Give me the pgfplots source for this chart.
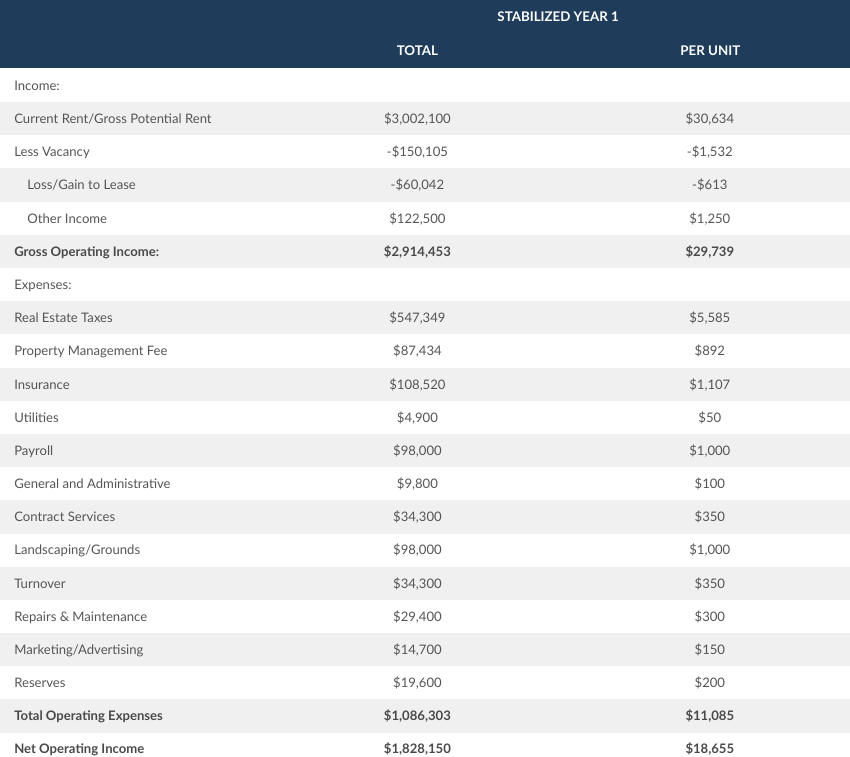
\documentclass[border=0pt]{standalone}
\usepackage{fontspec}
\setmainfont{Lato}
\usepackage{pgfplots}
\usepackage{pgfplotstable}
\pgfplotsset{compat=1.18}
\definecolor{hdr}{HTML}{1F3D5A}
\definecolor{band}{HTML}{F0F0F0}
\definecolor{txt}{HTML}{555555}
\definecolor{txtb}{HTML}{4A4A4A}

% regular rows (label column at x=17)
\pgfplotstableread[col sep=semicolon]{
y;label;total;unit
85;Income:;{};{}
117.7;Current Rent/Gross Potential Rent;\$3,002,100;\$30,634
150.6;Less Vacancy;-\$150,105;-\$1,532
282.3;Expenses:;{};{}
315.2;Real Estate Taxes;\$547,349;\$5,585
348.1;Property Management Fee;\$87,434;\$892
381.0;Insurance;\$108,520;\$1,107
413.9;Utilities;\$4,900;\$50
446.8;Payroll;\$98,000;\$1,000
479.7;General and Administrative;\$9,800;\$100
512.6;Contract Services;\$34,300;\$350
545.5;Landscaping/Grounds;\$98,000;\$1,000
578.4;Turnover;\$34,300;\$350
611.3;Repairs \& Maintenance;\$29,400;\$300
644.2;Marketing/Advertising;\$14,700;\$150
677.1;Reserves;\$19,600;\$200
}\regular

% indented rows (label column at x=30)
\pgfplotstableread[col sep=semicolon]{
y;label;total;unit
183.5;Loss/Gain to Lease;-\$60,042;-\$613
216.4;Other Income;\$122,500;\$1,250
}\indented

% bold rows
\pgfplotstableread[col sep=semicolon]{
y;label;total;unit
249.3;Gross Operating Income:;\$2,914,453;\$29,739
710.0;Total Operating Expenses;\$1,086,303;\$11,085
742.9;Net Operating Income;\$1,828,150;\$18,655
}\boldrows

\begin{document}
\begin{tikzpicture}
\begin{axis}[
  width=850bp, height=762bp, scale only axis,
  xmin=0, xmax=850, ymin=0, ymax=762, y dir=reverse,
  hide axis, clip=false,
  nodes near coords,
  point meta=explicit symbolic,
]
% header band and alternating row bands
\fill[hdr] (axis cs:3,0) rectangle (axis cs:846,67);
\fill[band] (axis cs:3,101.2) rectangle (axis cs:846,134.2);
\fill[band] (axis cs:3,167.0) rectangle (axis cs:846,200.0);
\fill[band] (axis cs:3,232.8) rectangle (axis cs:846,265.8);
\fill[band] (axis cs:3,298.7) rectangle (axis cs:846,331.7);
\fill[band] (axis cs:3,364.5) rectangle (axis cs:846,397.5);
\fill[band] (axis cs:3,430.3) rectangle (axis cs:846,463.3);
\fill[band] (axis cs:3,496.1) rectangle (axis cs:846,529.1);
\fill[band] (axis cs:3,561.9) rectangle (axis cs:846,594.9);
\fill[band] (axis cs:3,627.7) rectangle (axis cs:846,660.7);
\fill[band] (axis cs:3,693.5) rectangle (axis cs:846,726.5);
\node[text=white, font=\fontsize{13.2bp}{15bp}\selectfont\bfseries, anchor=base] at (axis cs:556.5,21.5) {STABILIZED YEAR 1};
\node[text=white, font=\fontsize{13.2bp}{15bp}\selectfont\bfseries, anchor=base] at (axis cs:417,55.5) {TOTAL};
\node[text=white, font=\fontsize{13.2bp}{15bp}\selectfont\bfseries, anchor=base] at (axis cs:707.5,55.5) {PER UNIT};

% regular rows
\addplot[only marks, mark=none, nodes near coords style={anchor=base west, inner sep=0pt, text=txt, font=\fontsize{13bp}{15bp}\selectfont, yshift=-4.8bp}]
  table[x expr=17, y=y, meta=label] {\regular};
\addplot[only marks, mark=none, nodes near coords style={anchor=base, inner sep=0pt, text=txt, font=\fontsize{13bp}{15bp}\selectfont, yshift=-4.8bp}]
  table[x expr=417, y=y, meta=total] {\regular};
\addplot[only marks, mark=none, nodes near coords style={anchor=base, inner sep=0pt, text=txt, font=\fontsize{13bp}{15bp}\selectfont, yshift=-4.8bp}]
  table[x expr=707, y=y, meta=unit] {\regular};

% indented rows
\addplot[only marks, mark=none, nodes near coords style={anchor=base west, inner sep=0pt, text=txt, font=\fontsize{13bp}{15bp}\selectfont, yshift=-4.8bp}]
  table[x expr=30, y=y, meta=label] {\indented};
\addplot[only marks, mark=none, nodes near coords style={anchor=base, inner sep=0pt, text=txt, font=\fontsize{13bp}{15bp}\selectfont, yshift=-4.8bp}]
  table[x expr=417, y=y, meta=total] {\indented};
\addplot[only marks, mark=none, nodes near coords style={anchor=base, inner sep=0pt, text=txt, font=\fontsize{13bp}{15bp}\selectfont, yshift=-4.8bp}]
  table[x expr=707, y=y, meta=unit] {\indented};

% bold rows
\addplot[only marks, mark=none, nodes near coords style={anchor=base west, inner sep=0pt, text=txtb, font=\fontsize{13bp}{15bp}\selectfont\bfseries, yshift=-4.8bp}]
  table[x expr=17, y=y, meta=label] {\boldrows};
\addplot[only marks, mark=none, nodes near coords style={anchor=base, inner sep=0pt, text=txtb, font=\fontsize{13bp}{15bp}\selectfont\bfseries, yshift=-4.8bp}]
  table[x expr=417, y=y, meta=total] {\boldrows};
\addplot[only marks, mark=none, nodes near coords style={anchor=base, inner sep=0pt, text=txtb, font=\fontsize{13bp}{15bp}\selectfont\bfseries, yshift=-4.8bp}]
  table[x expr=707, y=y, meta=unit] {\boldrows};
\end{axis}
\end{tikzpicture}
\end{document}
